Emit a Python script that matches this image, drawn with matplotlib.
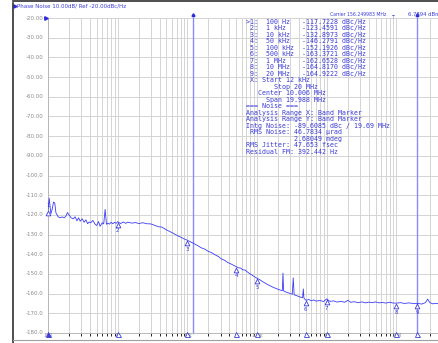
import numpy as np
import matplotlib.pyplot as plt
from matplotlib import transforms
from matplotlib.lines import Line2D

# phase noise trace, offset frequency in Hz and level in dBc/Hz
freq_hz = [100, 104, 110, 115, 120, 125, 130, 140, 150, 160, 170, 180, 190, 200,
           215, 230, 245, 260, 275, 290, 310, 330, 350, 370, 390, 410, 440, 470,
           500, 530, 560, 600, 630, 660, 690, 720, 760, 800, 850, 900, 950, 1000,
           1100, 1200, 1300, 1400, 1600, 1800, 2000, 2300, 2600, 3000, 3400, 3800,
           4300, 5000, 6000, 7000, 8000, 9000, 10000, 12000, 14000, 16000, 18000,
           20000, 22000, 25000, 28000, 31000, 34000, 38000, 42000, 46000, 50000,
           54000, 58000, 62000, 67000, 72000, 78000, 85000, 92000, 100000, 110000,
           120000, 135000, 150000, 170000, 190000, 215000, 230000, 235000, 240000,
           260000, 290000, 320000, 330000, 340000, 380000, 420000, 450000, 460000,
           470000, 500000, 550000, 600000, 650000, 700000, 800000, 900000, 1000000,
           1100000, 1250000, 1400000, 1600000, 1800000, 2000000, 2200000, 2500000,
           2800000, 3200000, 3600000, 4000000, 4500000, 5000000, 5600000, 6300000,
           7000000, 8000000, 9000000, 10000000, 11500000, 13000000, 15000000,
           17500000, 20000000, 23000000, 26000000, 28000000, 30000000, 33000000,
           36000000, 41000000]
level_dbc = [-117.72, -111.5, -119.5, -117.0, -113.5, -114.0, -119.0, -121.0, -121.5,
             -121.0, -121.5, -120.8, -118.8, -120.0, -121.5, -122.0, -121.0, -123.0,
             -121.5, -123.2, -122.0, -123.8, -122.5, -124.5, -123.6, -124.0, -122.8,
             -124.6, -125.4, -123.4, -125.8, -124.0, -124.6, -117.2, -124.8, -124.2,
             -124.7, -123.8, -124.5, -123.8, -124.3, -123.46, -124.4, -123.6, -124.3,
             -123.7, -124.2, -123.9, -124.4, -124.0, -124.5, -124.6, -125.3, -126.0,
             -126.2, -127.6, -129.0, -130.3, -131.3, -132.2, -132.90, -134.3, -135.6,
             -136.8, -137.5, -138.6, -139.1, -140.3, -141.2, -142.5, -143.0, -144.2,
             -144.9, -145.6, -146.28, -146.9, -147.0, -147.9, -148.0, -148.9, -149.8,
             -150.6, -151.5, -152.19, -153.0, -153.9, -155.0, -155.8, -156.8, -157.5,
             -158.2, -158.5, -149.6, -158.6, -159.2, -159.8, -160.3, -152.0, -160.6,
             -161.2, -161.8, -162.0, -157.6, -162.3, -163.37, -163.0, -163.6, -163.2,
             -163.8, -163.5, -164.0, -162.65, -163.9, -163.7, -164.3, -163.9, -164.4,
             -163.4, -164.4, -164.1, -164.6, -164.2, -164.7, -164.3, -164.6, -164.2,
             -164.7, -164.5, -164.8, -164.4, -164.8, -164.82, -164.6, -165.0, -164.7,
             -165.0, -164.92, -165.3, -164.6, -162.8, -164.5, -165.2, -164.9, -165.1]

# marker table
marker_freq = [100, 1e3, 10e3, 50e3, 100e3, 500e3, 1e6, 10e6, 20e6]
marker_names = ["100 Hz", "1 kHz", "10 kHz", "50 kHz", "100 kHz", "500 kHz",
                "1 MHz", "10 MHz", "20 MHz"]
marker_level = [-117.7228, -123.4591, -132.8973, -146.2791, -152.1926,
                -163.3721, -162.6528, -164.8170, -164.9222]

band_start = 12e3
band_stop = 20e6

y_ticks = list(range(-20, -181, -10))
x_decades = [100, 1e3, 1e4, 1e5, 1e6, 1e7]
x_labels = ["100", "1k", "10k", "100k", "1M", "10M"]

summary_lines = [
    " X: Start 12 kHz",
    "       Stop 20 MHz",
    "   Center 10.006 MHz",
    "     Span 19.988 MHz",
    "=== Noise ===",
    "Analysis Range X: Band Marker",
    "Analysis Range Y: Band Marker",
    "Intg Noise: -89.6085 dBc / 19.69 MHz",
    " RMS Noise: 46.7834 \u00b5rad",
    "            2.68049 mdeg",
    "RMS Jitter: 47.653 fsec",
    "Residual FM: 392.442 Hz",
]

TRACE = "#3c3cf4"
TEXT = "#3c3cd8"
VLINE = "#8a8aff"
GRID = "#d4d4d4"
LABEL = "#8c8c8c"

W, H = 439, 343
fig = plt.figure(figsize=(W / 100, H / 100), dpi=100)
fig.patch.set_facecolor("white")

x_right = 10 ** (2 + 391 / 69.7)
ax = fig.add_axes([48 / W, 1 - 333 / H, 1 - 48 / W, (333 - 18) / H])
ax.set_xscale("log")
ax.set_xlim(100, x_right)
ax.set_ylim(-180, -20)

# grid
for d in [1e2, 1e3, 1e4, 1e5, 1e6, 1e7]:
    for m in range(1, 10):
        f = d * m
        if 100 <= f <= x_right:
            ax.axvline(f, color=GRID, lw=0.7, zorder=0)
for yv in y_ticks:
    ax.axhline(yv, color=GRID, lw=0.7, zorder=0)

ax.set_xticks([])
ax.set_yticks([])
for s in ["top", "right"]:
    ax.spines[s].set_visible(False)
for s in ["left", "bottom"]:
    ax.spines[s].set_color("#b8b8b8")
    ax.spines[s].set_linewidth(0.7)

# y labels
for yv in y_ticks:
    txt = "%.2f" % yv if yv > -100 else "%.1f" % yv
    ax.text(-0.011, yv, txt, transform=ax.get_yaxis_transform(), ha="right",
            va="center", fontsize=4, color=LABEL)

# x labels at decades
xt = ax.get_xaxis_transform()
for f, lab in zip(x_decades, x_labels):
    ax.text(f, -0.007, lab, transform=xt, ha="center", va="center",
            fontsize=3.4, color=LABEL, clip_on=False)

# integration band limits
for f in [band_start, band_stop]:
    ax.plot([f, f], [0, 1.01], transform=xt, color=VLINE, lw=1.0,
            clip_on=False, zorder=2)
    ax.plot([f], [1.01], transform=xt, marker=(3, 0, 0), ms=2.5,
            color="#2a2ae0", clip_on=False, zorder=3)

# trace
ax.plot(freq_hz, level_dbc, color=TRACE, lw=0.6, zorder=4)

# markers on trace
tri = transforms.offset_copy(ax.transData, fig=fig, x=0, y=-2.2, units="points")
bottom = transforms.offset_copy(xt, fig=fig, x=0, y=-0.6, units="points")
for i, (f, v) in enumerate(zip(marker_freq, marker_level)):
    ax.plot([f], [v], transform=tri, marker="^", ms=3.4, mfc="white",
            mec=TEXT, mew=0.6, zorder=5, clip_on=False)
    dy_pt = 3.2 if i == 0 else -6.6
    ax.annotate(str(i + 1), xy=(f, v), xytext=(0, dy_pt), textcoords="offset points",
                ha="center", va="center", fontsize=4, color=TEXT, zorder=6)
    # position indicators along the frequency axis
    ax.plot([f], [0.0], transform=bottom, marker="^", ms=3.6,
            mfc=TEXT if i == 0 else "white", mec=TEXT, mew=0.6,
            clip_on=False, zorder=6)

# reference level pointer
ax.plot([0.0], [-20], transform=transforms.offset_copy(ax.get_yaxis_transform(), fig=fig,
        x=-1.5, y=0, units="points"), marker=">", ms=2.5, color="#2a2ae0",
        clip_on=False, zorder=6)

# marker table and analysis results
lines = []
for i, (name, v) in enumerate(zip(marker_names, marker_level)):
    head = (">" if i == 0 else " ") + "%d:" % (i + 1)
    lines.append("%s  %-9s%.4f dBc/Hz" % (head, name, v))
lines += summary_lines
y0 = 1 - 21.7 / H
dy = 6.5 / H
for k, s in enumerate(lines):
    fig.text(246 / W, y0 - k * dy, s, family="DejaVu Sans Mono", fontsize=4.8,
             color=TEXT, ha="left", va="center")

# header texts
fig.text(17 / W, 1 - 5.5 / H, "Phase Noise 10.00dB/ Ref -20.00dBc/Hz", fontsize=4,
         color=TEXT, ha="left", va="center")
fig.add_artist(Line2D([15 / W], [1 - 5.5 / H], marker=">", ms=2.2, color="#2a2ae0"))
fig.text(330 / W, 1 - 15 / H, "Carrier 156.249983 MHz", fontsize=3.3, color=TEXT,
         ha="left", va="center")
fig.text(392 / W, 1 - 15 / H, "\u252c", fontsize=3.3, color=TEXT, ha="left", va="center")
fig.text(408 / W, 1 - 15 / H, "6.7894 dBm", fontsize=3.8, color=TEXT,
         ha="left", va="center")

# panel frame
fig.add_artist(Line2D([13 / W, 13 / W], [1 - 3 / H, 0], color="#303030", lw=1.2))
fig.add_artist(Line2D([13 / W, 1], [1 - 1 / H, 1 - 1 / H], color="#303030", lw=1.2))
fig.add_artist(Line2D([13 / W, 1], [1 - 339.5 / H, 1 - 339.5 / H], color="#a0a0a0", lw=0.8))

fig.savefig("out.png", dpi=100)
